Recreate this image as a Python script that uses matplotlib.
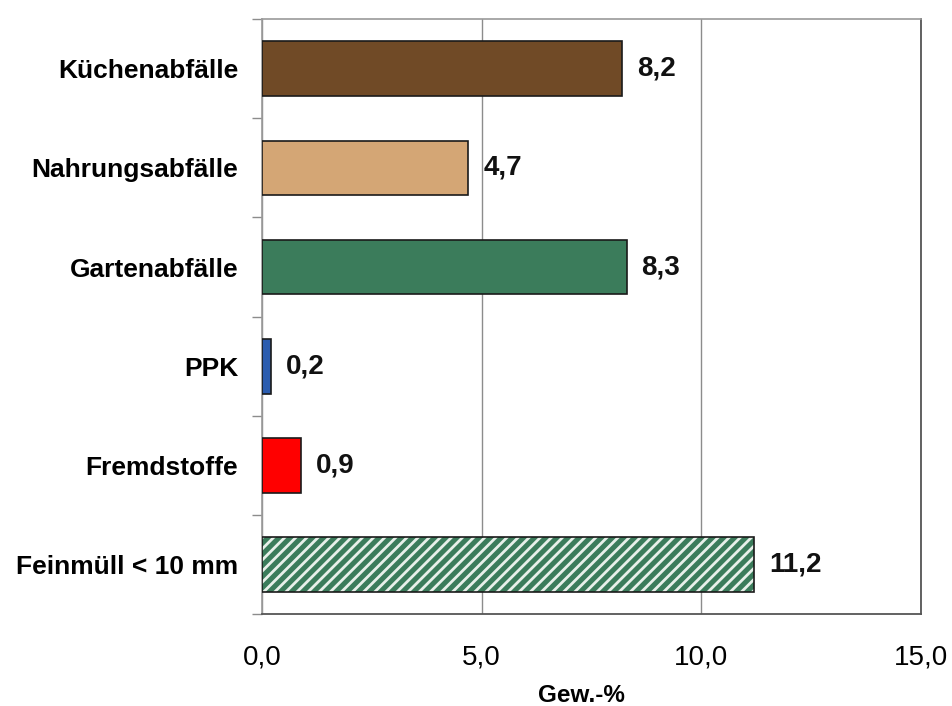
import matplotlib
matplotlib.use("Agg")
import matplotlib.pyplot as plt
import numpy as np

plt.rcParams['font.family'] = ['Liberation Sans', 'DejaVu Sans']
plt.rcParams['hatch.linewidth'] = 2.0

categories = ["Küchenabfälle", "Nahrungsabfälle", "Gartenabfälle", "PPK",
              "Fremdstoffe", "Feinmüll < 10 mm"]
values = [8.2, 4.7, 8.3, 0.2, 0.9, 11.2]
colors = ["#704A26", "#D4A675", "#3B7C5B", "#2A5CAF", "#FF0000", "#3B7C5B"]
hatches = [None, None, None, None, None, "///"]
xticks = [0.0, 5.0, 10.0, 15.0]

fig = plt.figure(figsize=(9.52, 7.06), dpi=100)
ax = fig.add_axes([0.275, 0.130, 0.6925, 0.843])

y = np.arange(len(categories))
for yi, v, c, h in zip(y, values, colors, hatches):
    if h:
        # fill with light stripes, then draw the dark outline on top
        ax.barh(yi, v, height=0.55, color=c, edgecolor="#e8f0ea",
                linewidth=0, hatch=h, zorder=3)
        ax.barh(yi, v, height=0.55, fill=False, edgecolor="#1a1a1a",
                linewidth=1.2, zorder=4)
    else:
        ax.barh(yi, v, height=0.55, color=c, edgecolor="#1a1a1a",
                linewidth=1.2, zorder=3)
    ax.text(v + 0.34, yi, f"{v:.1f}".replace(".", ","), va="center", ha="left",
            fontsize=20, fontweight="bold", color="#111111")

ax.set_xlim(0, 15)
ax.set_ylim(len(categories) - 0.5, -0.5)

ax.set_xticks(xticks)
ax.set_xticklabels([f"{t:.1f}".replace(".", ",") for t in xticks], fontsize=20)
ax.tick_params(axis="x", length=0, pad=22)
ax.xaxis.grid(True, color="#8c8c8c", linewidth=1.0, zorder=0)

ax.set_yticks(y)
ax.set_yticklabels(categories, fontsize=19, fontweight="bold")
ax.tick_params(axis="y", which="major", length=0, pad=17)
ax.set_yticks(np.arange(-0.5, len(categories)), minor=True)
ax.tick_params(axis="y", which="minor", length=7, color="#8c8c8c", width=1.0)

ax.set_xlabel("Gew.-%", fontsize=17.5, fontweight="bold", labelpad=6)
ax.xaxis.set_label_coords(0.485, -0.118)

for side in ["top", "left"]:
    ax.spines[side].set_color("#9a9a9a")
    ax.spines[side].set_linewidth(1.2)
for side in ["right", "bottom"]:
    ax.spines[side].set_color("#555555")
    ax.spines[side].set_linewidth(1.3)

fig.savefig("out.png", dpi=100)
